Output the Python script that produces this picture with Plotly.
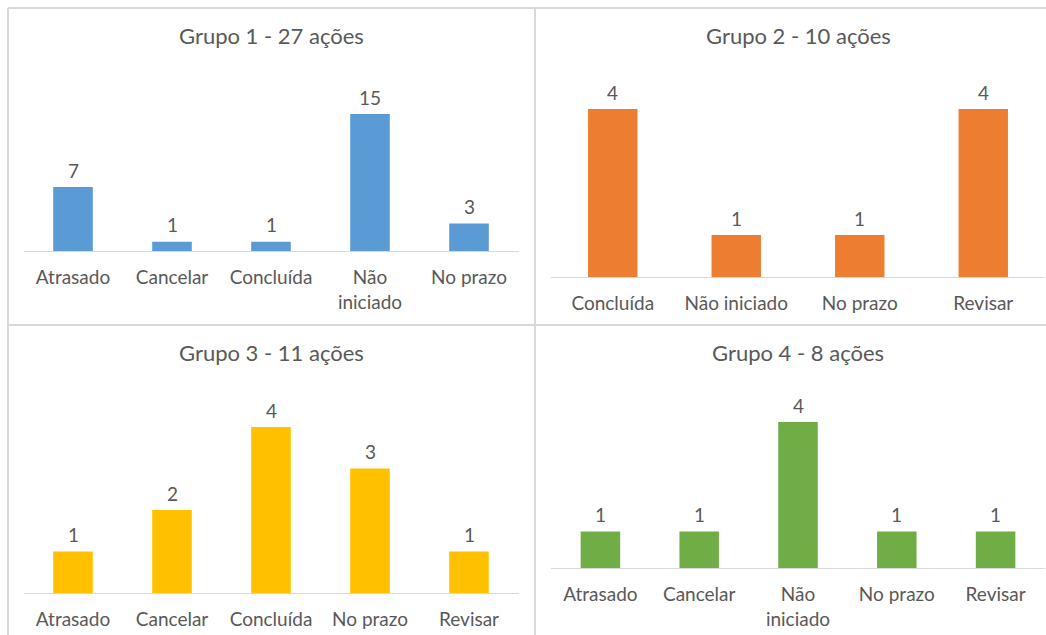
import plotly.graph_objects as go

W, H = 1046, 635

titles = ["Grupo 1 - 27 ações", "Grupo 2 - 10 ações", "Grupo 3 - 11 ações", "Grupo 4 - 8 ações"]

g1_cats = ["Atrasado", "Cancelar", "Concluída", "Não iniciado", "No prazo"]
g1_vals = [7, 1, 1, 15, 3]
g1_ticks = ["Atrasado", "Cancelar", "Concluída", "Não<br>iniciado", "No prazo"]

g2_cats = ["Concluída", "Não iniciado", "No prazo", "Revisar"]
g2_vals = [4, 1, 1, 4]
g2_ticks = ["Concluída", "Não iniciado", "No prazo", "Revisar"]

g3_cats = ["Atrasado", "Cancelar", "Concluída", "No prazo", "Revisar"]
g3_vals = [1, 2, 4, 3, 1]
g3_ticks = ["Atrasado", "Cancelar", "Concluída", "No prazo", "Revisar"]

g4_cats = ["Atrasado", "Cancelar", "Não iniciado", "No prazo", "Revisar"]
g4_vals = [1, 1, 4, 1, 1]
g4_ticks = ["Atrasado", "Cancelar", "Não<br>iniciado", "No prazo", "Revisar"]

colors = ["#5B9BD5", "#ED7D31", "#FFC000", "#70AD47"]

FONT = "Lato"
TXT = "#595959"
GRID = "#D9D9D9"

# layout per panel: (x_left_px, x_right_px, baseline_px, px_per_unit, ymax, title_y_px)
panels = [
    (23.5, 518.5, 251, 9.13, 16, 35),
    (551, 1045, 277, 42.0, 4.5, 35),
    (23.5, 518.5, 593, 41.5, 4.5, 352),
    (551, 1045, 568, 36.5, 4.5, 352),
]

groups = [
    (g1_cats, g1_vals, g1_ticks),
    (g2_cats, g2_vals, g2_ticks),
    (g3_cats, g3_vals, g3_ticks),
    (g4_cats, g4_vals, g4_ticks),
]

fig = go.Figure()
annotations = []
layout_axes = {}
for i, ((cats, vals, ticks), (xl, xr, base, ppu, ymax, ty)) in enumerate(zip(groups, panels)):
    n = i + 1
    xa = "x" if n == 1 else f"x{n}"
    ya = "y" if n == 1 else f"y{n}"
    fig.add_trace(go.Bar(
        x=cats, y=vals, xaxis=xa, yaxis=ya,
        marker=dict(color=colors[i], line=dict(width=0)),
        width=0.4, showlegend=False, hoverinfo="x+y",
    ))
    top = base - ymax * ppu
    layout_axes[f"xaxis{'' if n == 1 else n}"] = dict(
        domain=[xl / W, xr / W], anchor=ya,
        type="category", categoryorder="array", categoryarray=cats,
        tickmode="array", tickvals=cats, ticktext=ticks,
        range=[-0.5, len(cats) - 0.5],
        showline=True, linecolor=GRID, linewidth=1,
        showgrid=False, zeroline=False, ticks="",
        ticklabelstandoff=9,
        tickfont=dict(family=FONT, size=19, color=TXT),
        fixedrange=True,
    )
    layout_axes[f"yaxis{'' if n == 1 else n}"] = dict(
        domain=[1 - base / H, 1 - top / H], anchor=xa,
        range=[0, ymax], visible=False, fixedrange=True,
    )
    for c, v in zip(cats, vals):
        annotations.append(dict(
            x=c, y=v, xref=xa, yref=ya, text=str(v), showarrow=False,
            yanchor="middle", yshift=17,
            font=dict(family=FONT, size=19, color=TXT),
        ))
    annotations.append(dict(
        x=(xl + xr) / 2 / W, y=1 - ty / H, xref="paper", yref="paper",
        text=titles[i], showarrow=False, xanchor="center", yanchor="middle",
        font=dict(family=FONT, size=22, color=TXT),
    ))

shapes = [
    dict(type="line", xref="paper", yref="paper", x0=8 / W, x1=1, y0=1 - 8 / H, y1=1 - 8 / H,
         line=dict(color=GRID, width=2)),
    dict(type="line", xref="paper", yref="paper", x0=8 / W, x1=8 / W, y0=0, y1=1 - 8 / H,
         line=dict(color=GRID, width=2)),
    dict(type="line", xref="paper", yref="paper", x0=535 / W, x1=535 / W, y0=0, y1=1 - 8 / H,
         line=dict(color=GRID, width=2)),
    dict(type="line", xref="paper", yref="paper", x0=8 / W, x1=1, y0=1 - 325 / H, y1=1 - 325 / H,
         line=dict(color=GRID, width=2)),
]

fig.update_layout(
    width=W, height=H, margin=dict(l=0, r=0, t=0, b=0),
    paper_bgcolor="white", plot_bgcolor="white",
    annotations=annotations, shapes=shapes, bargap=0.6,
    **layout_axes,
)

fig.write_html("out.html", config={"displayModeBar": False})
